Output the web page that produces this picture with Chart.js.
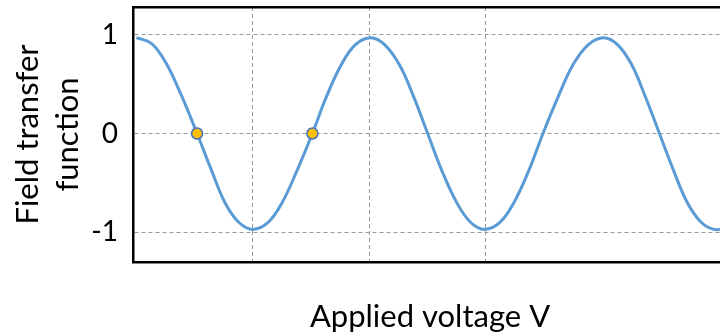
<!DOCTYPE html>
<html>
<head>
<meta charset="utf-8">
<script src="https://cdn.jsdelivr.net/npm/chart.js@4/dist/chart.umd.min.js"></script>
<style>
    html, body { margin: 0; padding: 0; background: #ffffff; overflow: hidden; }
    #wrap { width: 734px; height: 336px; }
</style>
</head>
<body>
<div id="wrap"><canvas id="transferChart" width="734" height="336"></canvas></div>
<script>
// Curva de transferência de campo (tensão em unidades de V_pi)
const voltage = [0, 0.13, 0.25, 0.38, 0.52, 0.64, 0.76, 0.88, 1.0, 1.13, 1.25, 1.38, 1.51, 1.63, 1.76, 1.88,
    2.01, 2.13, 2.26, 2.38, 2.5, 2.62, 2.75, 2.87, 2.99, 3.12, 3.24, 3.37, 3.49, 3.62, 3.75, 3.88,
    4.01, 4.13, 4.25, 4.37, 4.49, 4.61, 4.73, 4.85, 4.96, 5.05];
const transfer = [0.97, 0.91, 0.72, 0.40, 0, -0.36, -0.70, -0.90, -0.97, -0.90, -0.70, -0.37, 0, 0.37, 0.70, 0.90,
    0.97, 0.90, 0.69, 0.37, 0, -0.37, -0.70, -0.90, -0.97, -0.90, -0.70, -0.37, 0, 0.37, 0.70, 0.90,
    0.97, 0.90, 0.70, 0.37, 0, -0.37, -0.70, -0.90, -0.97, -0.96];

// Pontos de polarização marcados (cruzamentos por zero)
const biasVoltage = [0.52, 1.51];
const biasTransfer = [0, 0];

// Ticks / linhas de grade
const yTicks = [-1, 0, 1];
const xGridTicks = [1, 2, 3];

const LINE_COLOR = '#5B9BD5';
const MARKER_FILL = '#FFC000';
const MARKER_BORDER = '#4472C4';
const GRID_COLOR = '#999999';
const FONT = 'Lato, "Open Sans", sans-serif';

const curvePoints = voltage.map((v, i) => ({ x: v, y: transfer[i] }));
const biasPoints = biasVoltage.map((v, i) => ({ x: v, y: biasTransfer[i] }));

const ctx = document.getElementById('transferChart');

new Chart(ctx, {
    type: 'scatter',
    data: {
        datasets: [
            {
                label: 'Bias',
                data: biasPoints,
                showLine: false,
                pointRadius: 5.5,
                pointBackgroundColor: MARKER_FILL,
                pointBorderColor: MARKER_BORDER,
                pointBorderWidth: 1.5,
                order: 0
            },
            {
                label: 'Transfer',
                data: curvePoints,
                showLine: true,
                borderColor: LINE_COLOR,
                borderWidth: 3,
                tension: 0.4,
                pointRadius: 0,
                fill: false,
                order: 1
            }
        ]
    },
    options: {
        responsive: false,
        animation: false,
        layout: { padding: { top: 7, left: 0, right: 0, bottom: 0 } },
        plugins: {
            legend: { display: false },
            tooltip: { enabled: false }
        },
        scales: {
            x: {
                type: 'linear',
                position: 'bottom',
                min: -0.03,
                max: 5.07,
                afterBuildTicks: (scale) => {
                    scale.ticks = xGridTicks.map(v => ({ value: v }));
                },
                afterFit: (scale) => {
                    scale.height = 74;
                    scale.paddingLeft = 0;
                    scale.paddingRight = 0;
                },
                ticks: { display: false },
                grid: {
                    color: GRID_COLOR,
                    lineWidth: 1,
                    drawTicks: false
                },
                border: { display: true, color: '#000000', width: 2.5, dash: [4, 3] },
                title: {
                    display: true,
                    text: 'Applied voltage V',
                    color: '#000000',
                    font: { family: FONT, size: 31 },
                    padding: { top: 24, bottom: 0 }
                }
            },
            x2: {
                type: 'linear',
                position: 'top',
                min: -0.03,
                max: 5.07,
                afterFit: (scale) => { scale.height = 0; },
                ticks: { display: false },
                grid: { display: false, drawTicks: false },
                border: { display: true, color: '#000000', width: 2.5 }
            },
            y: {
                type: 'linear',
                min: -1.3,
                max: 1.28,
                afterBuildTicks: (scale) => {
                    scale.ticks = yTicks.map(v => ({ value: v }));
                },
                afterFit: (scale) => {
                    scale.width = 133;
                    scale.paddingTop = 0;
                    scale.paddingBottom = 0;
                },
                ticks: {
                    color: '#000000',
                    padding: 15,
                    font: { family: FONT, size: 28 }
                },
                grid: {
                    color: GRID_COLOR,
                    lineWidth: 1,
                    drawTicks: false
                },
                border: { display: true, color: '#000000', width: 2.5, dash: [4, 3] },
                title: {
                    display: true,
                    text: ['Field transfer', 'function'],
                    color: '#000000',
                    font: { family: FONT, size: 31, lineHeight: 1.3 },
                    padding: { top: 8, bottom: 0 }
                }
            }
        }
    }
});
</script>
</body>
</html>
